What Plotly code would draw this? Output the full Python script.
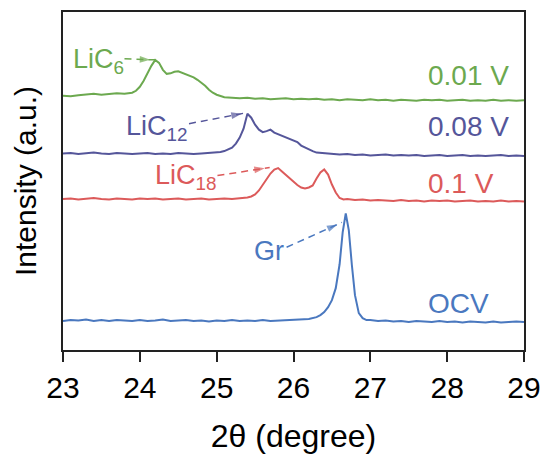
import plotly.graph_objects as go

# ---------------- data ----------------
x_001 = [23.0,23.1,23.2,23.3,23.4,23.5,23.6,23.7,23.8,23.9,23.95,24.0,24.05,24.1,24.15,24.2,24.25,24.3,24.35,24.4,
         24.45,24.5,24.55,24.6,24.65,24.7,24.75,24.8,24.85,24.9,24.95,25.0,25.1,25.2,25.3,25.4,25.5,25.6,25.7,25.8,
         25.9,26.0,26.1,26.2,26.3,26.4,26.5,26.6,26.7,26.8,26.9,27.0,27.1,27.2,27.3,27.4,27.5,27.6,27.7,27.8,
         27.9,28.0,28.1,28.2,28.3,28.4,28.5,28.6,28.7,28.8,28.9,29.0]
y_001 = [255,254.5,255.5,256,257,256,256.5,257.5,257,258,260,264,270,278,285,291,288,281,277,277.5,
         279,279.5,278,276,275,273.5,271,268,265,261,258,256,253.5,253,252.5,253,252,252.5,251.5,252,
         252.5,251.5,252,251.5,252,251,251.5,250.5,251.5,251,250.5,251.5,250.5,251,250,251,250.5,250,251,250.5,
         251,250,250.5,251,250,250.5,250,251,250,250.5,250,250.5]

x_008 = [23.0,23.1,23.2,23.3,23.4,23.5,23.6,23.7,23.8,23.9,24.0,24.1,24.2,24.3,24.4,24.5,24.6,24.7,24.8,24.9,
         25.0,25.05,25.1,25.15,25.2,25.25,25.3,25.35,25.4,25.45,25.5,25.55,25.6,25.65,25.7,25.75,25.8,25.85,25.9,25.95,
         26.0,26.05,26.1,26.15,26.2,26.25,26.3,26.4,26.5,26.6,26.7,26.8,26.9,27.0,27.1,27.2,27.3,27.4,27.5,27.6,
         27.7,27.8,27.9,28.0,28.1,28.2,28.3,28.4,28.5,28.6,28.7,28.8,28.9,29.0]
y_008 = [197,197.5,196.5,197,198,197,196.5,197.5,197,196.5,197,197.5,196.5,197,196.5,197.5,197,196.5,197,197.5,
         198,198.5,199.5,201,203,207,213,222,237,233,226,221,218.5,219.5,221,218,216.5,215,213.5,212,
         210.5,208.5,205,203,201,199.5,198,197.5,197,196,196.5,195.5,196,195,195.5,196,195,195.5,195,195.5,
         194.5,195,195.5,194.5,195,195.5,194.5,195,194.5,195,195.5,194.5,195,194.5]

x_01 = [23.0,23.1,23.2,23.3,23.4,23.5,23.6,23.7,23.8,23.9,24.0,24.1,24.2,24.3,24.4,24.5,24.6,24.7,24.8,24.9,
        25.0,25.1,25.2,25.3,25.35,25.4,25.45,25.5,25.55,25.6,25.65,25.7,25.75,25.8,25.85,25.9,25.95,26.0,26.05,26.1,
        26.15,26.2,26.25,26.3,26.35,26.4,26.45,26.5,26.55,26.6,26.65,26.7,26.8,26.9,27.0,27.1,27.2,27.3,27.4,27.5,
        27.6,27.7,27.8,27.9,28.0,28.1,28.2,28.3,28.4,28.5,28.6,28.7,28.8,28.9,29.0]
y_01 = [151.5,152,151,151.5,152.5,151.5,151,152,151.5,151,152,151.5,152,151,151.5,152,151,151.5,152,151,
        151.5,152,151.5,152,152.5,153,154,156,160,166,172,177,181,182.5,179,175.5,172,168.5,165.5,163,
        162,163,165,172,178,181,176,166,158,152.5,151,151.5,150.5,151,150,150.5,150,149.5,150.5,149.5,
        150,149,150,149.5,150,149,149.5,150,149,149.5,149,150,149,149.5,149]

x_ocv = [23.0,23.1,23.2,23.3,23.4,23.5,23.6,23.7,23.8,23.9,24.0,24.1,24.2,24.3,24.4,24.5,24.6,24.7,24.8,24.9,
         25.0,25.1,25.2,25.3,25.4,25.5,25.6,25.7,25.8,25.9,26.0,26.1,26.2,26.3,26.35,26.4,26.45,26.5,26.55,26.6,
         26.64,26.68,26.72,26.76,26.8,26.85,26.9,26.95,27.0,27.1,27.2,27.3,27.4,27.5,27.6,27.7,27.8,27.9,28.0,28.1,
         28.2,28.3,28.4,28.5,28.6,28.7,28.8,28.9,29.0]
y_ocv = [29,30,29.5,30.5,29,30,29,30,29.5,29,30,29,29.5,30.5,29,29.5,30,29,29.5,28.5,
         29.5,29,30,29,29.5,29,30,29,29.5,30,30.5,31,31,33,35,38,43,50,62,86,
         118,137,120,85,55,37,32,30,30,29,29.5,28.5,29,28,29,28.5,28,29,28,28.5,
         27.5,28.5,28,27.5,28.5,27.5,28,28.5,28]

series_names = ["0.01 V", "0.08 V", "0.1 V", "OCV"]
series_x = [x_001, x_008, x_01, x_ocv]
series_y = [y_001, y_008, y_01, y_ocv]
colors = ["#6CA94F", "#55569A", "#DC5A5A", "#4A78BF"]

# label positions (data coords)
label_x = [27.73, 27.73, 27.73, 27.73]
label_y = [275, 224, 167, 47]

# phase annotations: text, text position, arrow start, arrow tip
phase_text = ["LiC<sub>6</sub>", "LiC<sub>12</sub>", "LiC<sub>18</sub>", "Gr"]
phase_pos = [(23.11, 290), (23.80, 223), (24.17, 174), (25.46, 99)]
arrow_start = [(23.80, 292), (24.64, 227), (25.01, 175), (25.91, 103)]
arrow_tip = [(24.20, 291), (25.39, 238), (25.69, 183), (26.63, 128)]

x_ticks = [23, 24, 25, 26, 27, 28, 29]

FONT = "Liberation Sans, Arial, sans-serif"
X_RANGE = [23, 29]
Y_RANGE = [0, 339]

fig = go.Figure()
for name, xs, ys, c in zip(series_names, series_x, series_y, colors):
    fig.add_trace(go.Scatter(x=xs, y=ys, mode="lines", name=name,
                             line=dict(color=c, width=2), showlegend=False))

annotations = []
for name, lx, ly, c in zip(series_names, label_x, label_y, colors):
    annotations.append(dict(x=lx, y=ly, text=name, showarrow=False, xanchor="left",
                            yanchor="middle", font=dict(size=28, color=c, family=FONT)))

# approx pixel scale of the plot area (for placing the arrow heads a few px before the tip)
px_per_x = 461 / (X_RANGE[1] - X_RANGE[0])
px_per_y = 338 / (Y_RANGE[1] - Y_RANGE[0])

for t, (px, py), (sx, sy), (tx, ty), c in zip(phase_text, phase_pos, arrow_start, arrow_tip, colors):
    annotations.append(dict(x=px, y=py, text=t, showarrow=False, xanchor="left",
                            yanchor="middle", font=dict(size=27, color=c, family=FONT)))
    # dashed shaft
    fig.add_trace(go.Scatter(x=[sx, tx], y=[sy, ty], mode="lines", showlegend=False,
                             line=dict(color=c, width=1.5, dash="7px,5px"), hoverinfo="skip"))
    # arrow head as a rotated marker, centred ~5 px before the tip
    dxp = (tx - sx) * px_per_x
    dyp = (ty - sy) * px_per_y
    L = (dxp ** 2 + dyp ** 2) ** 0.5
    back = 5.0
    hx = tx - (dxp / L) * back / px_per_x
    hy = ty - (dyp / L) * back / px_per_y
    fig.add_trace(go.Scatter(x=[sx, hx], y=[sy, hy], mode="markers", showlegend=False,
                             hoverinfo="skip",
                             marker=dict(symbol="arrow", size=[0, 11], color=c,
                                         angleref="previous", line=dict(width=0))))

fig.update_layout(
    width=544, height=454, autosize=False,
    margin=dict(l=63, r=20, t=12, b=104, autoexpand=False),
    paper_bgcolor="white", plot_bgcolor="white",
    font=dict(family=FONT, color="black", size=30),
    annotations=annotations,
    xaxis=dict(range=X_RANGE, tickvals=x_ticks, ticks="outside", ticklen=10, tickwidth=1.5,
               tickcolor="#222", showline=True, linecolor="#222", linewidth=1.5, mirror=True,
               showgrid=False, zeroline=False, tickfont=dict(size=30), ticklabeloverflow="allow",
               automargin=False,
               title=dict(text="2θ (degree)", font=dict(size=32), standoff=22)),
    yaxis=dict(range=Y_RANGE, showticklabels=False, ticks="", showline=True, linecolor="#222",
               linewidth=1.5, mirror=True, showgrid=False, zeroline=False, automargin=False,
               title=dict(text="Intensity (a.u.)", font=dict(size=30), standoff=16)),
)

fig.write_html("out.html")
